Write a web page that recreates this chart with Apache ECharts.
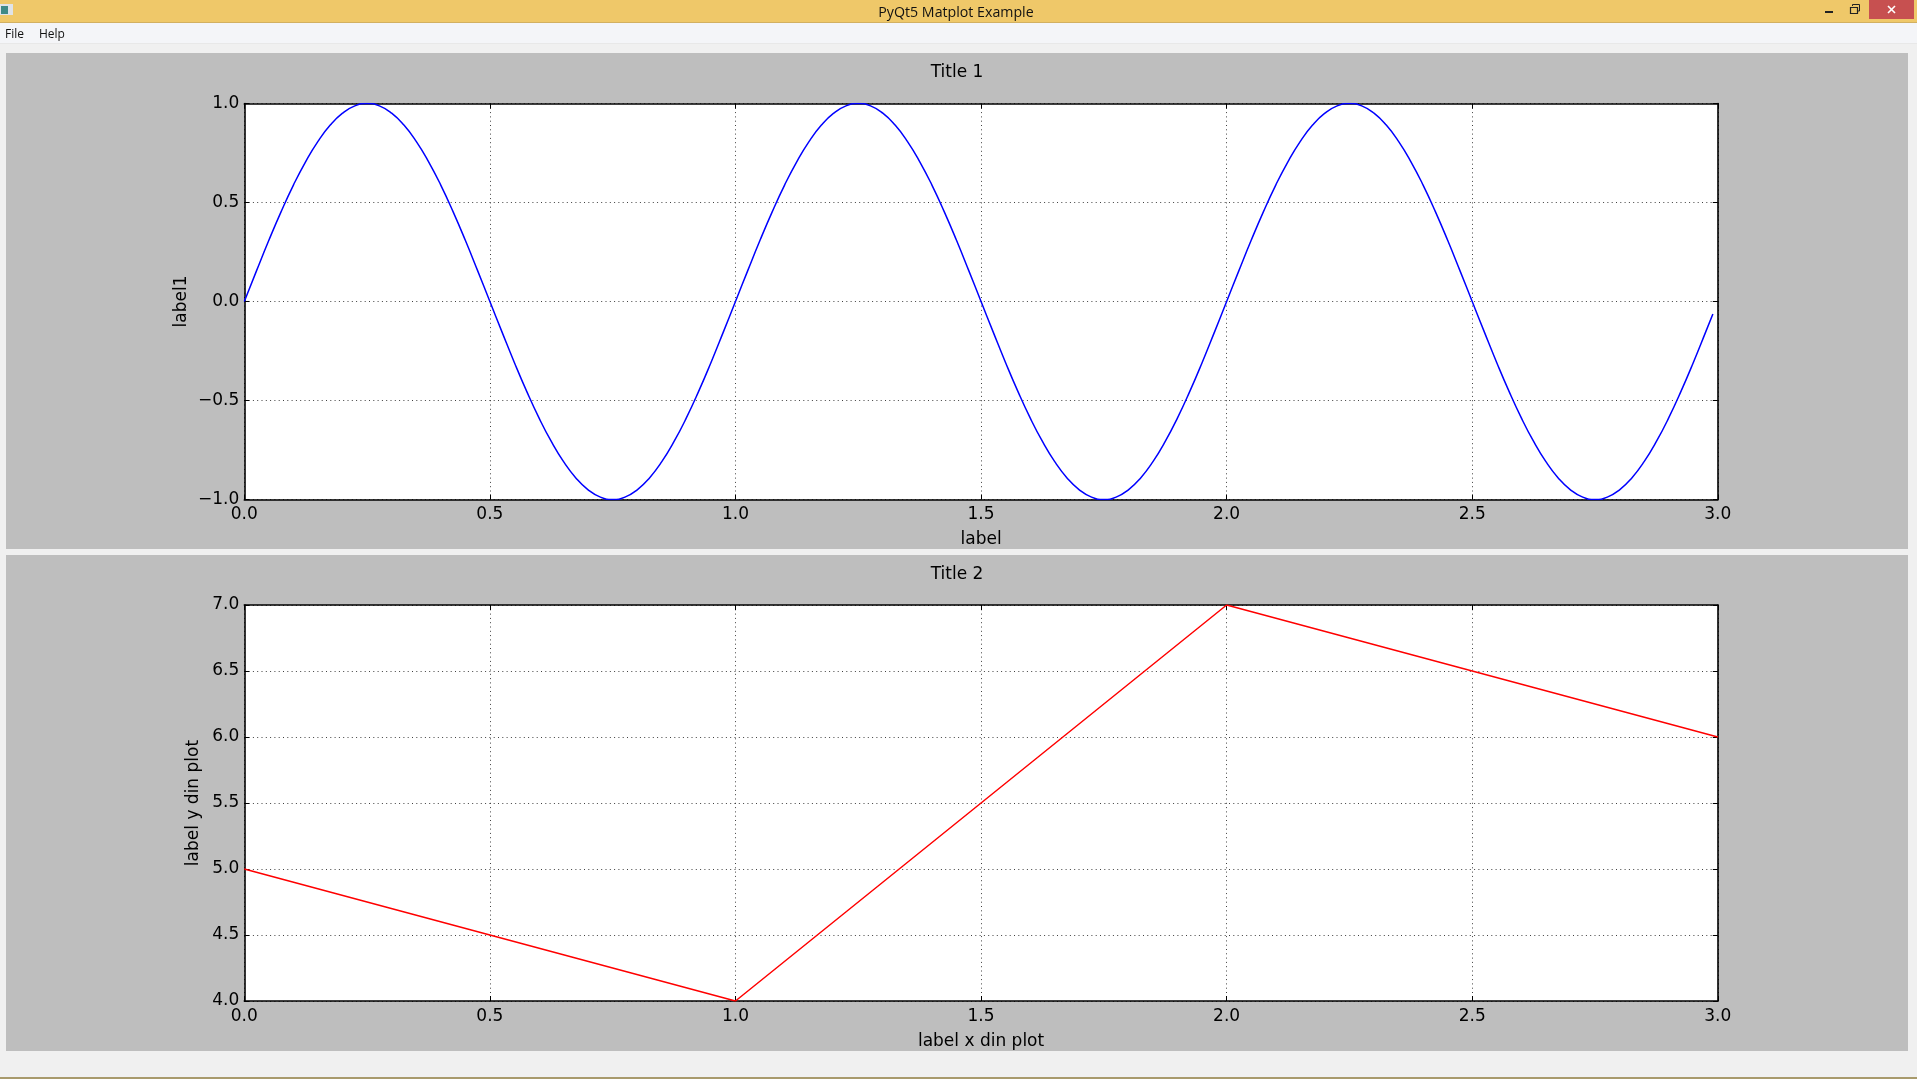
<!DOCTYPE html>
<html><head><meta charset="utf-8">
<style>html,body{margin:0;padding:0;background:#f0f0f0;overflow:hidden}#c{width:1917px;height:1079px}</style>
<script src="https://cdn.jsdelivr.net/npm/echarts@6/dist/echarts.min.js"></script>
</head><body><div id="c"></div>
<script>
const windowTitle = 'PyQt5 Matplot Example';
const menuItems = ['File', 'Help'];
const sineX = [0,0.025,0.05,0.075,0.1,0.125,0.15,0.175,0.2,0.225,0.25,0.275,0.3,0.325,0.35,0.375,0.4,0.425,0.45,0.475,
 0.5,0.525,0.55,0.575,0.6,0.625,0.65,0.675,0.7,0.725,0.75,0.775,0.8,0.825,0.85,0.875,0.9,0.925,0.95,0.975,
 1,1.025,1.05,1.075,1.1,1.125,1.15,1.175,1.2,1.225,1.25,1.275,1.3,1.325,1.35,1.375,1.4,1.425,1.45,1.475,
 1.5,1.525,1.55,1.575,1.6,1.625,1.65,1.675,1.7,1.725,1.75,1.775,1.8,1.825,1.85,1.875,1.9,1.925,1.95,1.975,
 2,2.025,2.05,2.075,2.1,2.125,2.15,2.175,2.2,2.225,2.25,2.275,2.3,2.325,2.35,2.375,2.4,2.425,2.45,2.475,
 2.5,2.525,2.55,2.575,2.6,2.625,2.65,2.675,2.7,2.725,2.75,2.775,2.8,2.825,2.85,2.875,2.9,2.925,2.95,2.975,2.99];
const sineY = [0,0.156,0.309,0.454,0.588,0.707,0.809,0.891,0.951,0.988,1,0.988,0.951,0.891,0.809,0.707,0.588,0.454,0.309,0.156,
 0,-0.156,-0.309,-0.454,-0.588,-0.707,-0.809,-0.891,-0.951,-0.988,-1,-0.988,-0.951,-0.891,-0.809,-0.707,-0.588,-0.454,-0.309,-0.156,
 0,0.156,0.309,0.454,0.588,0.707,0.809,0.891,0.951,0.988,1,0.988,0.951,0.891,0.809,0.707,0.588,0.454,0.309,0.156,
 0,-0.156,-0.309,-0.454,-0.588,-0.707,-0.809,-0.891,-0.951,-0.988,-1,-0.988,-0.951,-0.891,-0.809,-0.707,-0.588,-0.454,-0.309,-0.156,
 0,0.156,0.309,0.454,0.588,0.707,0.809,0.891,0.951,0.988,1,0.988,0.951,0.891,0.809,0.707,0.588,0.454,0.309,0.156,
 0,-0.156,-0.309,-0.454,-0.588,-0.707,-0.809,-0.891,-0.951,-0.988,-1,-0.988,-0.951,-0.891,-0.809,-0.707,-0.588,-0.454,-0.309,-0.156,-0.063];
const lineX = [0, 1, 2, 3];
const lineY = [5, 4, 7, 6];

const FONT = '"DejaVu Sans"';
const fmt = v => Number(v).toFixed(1).replace('-', '\u2212');
const pair = (xs, ys) => xs.map((x, i) => [x, ys[i]]);
const tickStyle = {show:true, inside:true, length:5, lineStyle:{color:'#000', width:1}};
const edge = {show:true, onZero:false, lineStyle:{color:'#000', width:1.6}};
const gridLine = {show:true, lineStyle:{color:'#000', width:1, type:[1,3.3], opacity:0.75}};

function xAxes(g, name){
  const base = {type:'value', gridIndex:g, min:0, max:3, interval:0.5, axisLine:edge, axisTick:tickStyle};
  return [
    {...base, position:'bottom', name, nameLocation:'middle', nameGap:32, nameMoveOverlap:false,
     nameTextStyle:{fontFamily:FONT, fontSize:17, color:'#000'},
     axisLabel:{show:true, margin:7, fontFamily:FONT, fontSize:17, color:'#000', formatter:fmt, showMinLabel:true, showMaxLabel:true, hideOverlap:false},
     splitLine:gridLine},
    {...base, position:'top', axisLabel:{show:false}, splitLine:{show:false}}
  ];
}
function yAxes(g, name, min, max, gap){
  const base = {type:'value', gridIndex:g, min, max, interval:0.5, axisLine:edge, axisTick:tickStyle};
  return [
    {...base, position:'left', name, nameLocation:'middle', nameGap:gap, nameRotate:90, nameMoveOverlap:false,
     nameTextStyle:{fontFamily:FONT, fontSize:17, color:'#000'},
     axisLabel:{show:true, margin:5, fontFamily:FONT, fontSize:17, color:'#000', formatter:fmt, showMinLabel:true, showMaxLabel:true, hideOverlap:false},
     splitLine:gridLine},
    {...base, position:'right', axisLabel:{show:false}, splitLine:{show:false}}
  ];
}
const rect = (x,y,w,h,fill,z) => ({type:'rect', shape:{x,y,width:w,height:h}, style:{fill}, z:z||-10, silent:true});
const txt = (x,y,text,size,align) => ({type:'text', x, y, z:5, silent:true,
  style:{text, fill:'#111', font:size+'px "Open Sans"', align:align||'left', verticalAlign:'middle'}});

const chart = echarts.init(document.getElementById('c'), null, {renderer:'canvas'});
chart.setOption({
  animation:false,
  backgroundColor:'#f0f0f0',
  title:[
    {text:'Title 1', left:952, top:59, textAlign:'center', textStyle:{fontFamily:FONT, fontSize:17, fontWeight:'normal', color:'#000'}},
    {text:'Title 2', left:952, top:561, textAlign:'center', textStyle:{fontFamily:FONT, fontSize:17, fontWeight:'normal', color:'#000'}}
  ],
  grid:[
    {left:244.3, top:103.5, width:1473.5, height:396, show:true, backgroundColor:'#fff', borderWidth:0},
    {left:244.3, top:605, width:1473.5, height:396, show:true, backgroundColor:'#fff', borderWidth:0}
  ],
  xAxis:[...xAxes(0,'label'), ...xAxes(1,'label x din plot')],
  yAxis:[...yAxes(0,'label1',-1,1,54), ...yAxes(1,'label y din plot',4,7,42)],
  series:[
    {type:'line', xAxisIndex:0, yAxisIndex:0, data:pair(sineX, sineY), showSymbol:false, smooth:true, lineStyle:{color:'#0000ff', width:1.5}, clip:true},
    {type:'line', xAxisIndex:2, yAxisIndex:2, data:pair(lineX, lineY), showSymbol:false, lineStyle:{color:'#ff0000', width:1.5}, clip:true}
  ],
  graphic:[
    rect(0,0,1917,22,'#efc869'),
    rect(0,22,1917,1,'#d2b061'),
    rect(0,23,1917,20,'#f4f5f8'),
    rect(0,43,1917,1,'#e8e8e8'),
    rect(6,53,1902,496,'#bebebe'),
    rect(6,555,1902,496,'#bebebe'),
    rect(0,1077,1917,2,'#a89a6c'),
    rect(0,4,13,11,'#dfe3e8',1),
    rect(1,6,7,8,'#3f8a86',2),
    rect(1869,0,45,19,'#c75050',1),
    rect(1825,11,8,2,'#222',2),
    {type:'rect', shape:{x:1850.5,y:7.5,width:7,height:6}, style:{fill:'none',stroke:'#222',lineWidth:1.2}, z:2, silent:true},
    {type:'polyline', shape:{points:[[1852.5,6],[1852.5,4.5],[1859.5,4.5],[1859.5,11],[1858,11]]}, style:{fill:'none',stroke:'#222',lineWidth:1}, z:2, silent:true},
    {type:'line', shape:{x1:1888,y1:6,x2:1895,y2:13}, style:{stroke:'#fff',lineWidth:1.6}, z:2, silent:true},
    {type:'line', shape:{x1:1895,y1:6,x2:1888,y2:13}, style:{stroke:'#fff',lineWidth:1.6}, z:2, silent:true},
    txt(956,12.5,windowTitle,14.2,'center'),
    txt(5,35,menuItems[0],12),
    txt(39,35,menuItems[1],12)
  ]
});
</script></body></html>
